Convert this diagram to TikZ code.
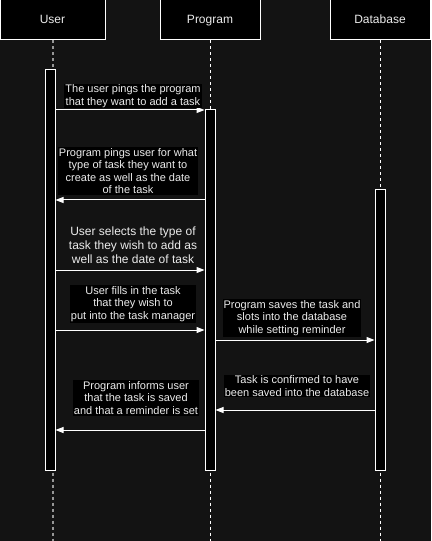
\documentclass[tikz,border=0pt]{standalone}
\usepackage{fontspec}
\setmainfont{Liberation Sans}
\usetikzlibrary{arrows.meta}
\definecolor{canvas}{RGB}{19,19,19}
\definecolor{ink}{RGB}{236,236,236}
\definecolor{userline}{RGB}{150,150,150}
\tikzset{
    actor/.style={draw=white, fill=black, line width=0.75pt, text=ink, inner sep=0pt,
        minimum height=30pt, text height=6.6pt, text depth=2pt, font=\fontsize{9}{11}\selectfont},
    bar/.style={draw=white, fill=black, line width=0.75pt, minimum width=7.5pt, inner sep=0pt},
    msg/.style={draw=white, line width=0.75pt, -{Triangle[length=6pt,width=4.5pt]}},
    note/.style={fill=black, text=ink, align=center, inner sep=0.75pt,
        font=\fontsize{8.25}{9.4}\selectfont},
    lifeline/.style={draw=white, line width=0.75pt, dash pattern=on 2.25pt off 2.25pt}
}
\begin{document}
\begin{tikzpicture}[x=0.75pt, y=-0.75pt]
    \fill[canvas] (0,0) rectangle (431,541);
    \useasboundingbox (0,0) rectangle (431,541);

    %%the three heads
        \node[actor, minimum width=78.75pt] (user) at (52.5,20){User};
        \node[actor, minimum width=75pt] (prog) at (210,20){Program};
        \node[actor, minimum width=75pt] (db) at (380,20){Database};

    %%lifelines
    \draw[lifeline, draw=userline, line width=1.5pt] (user.south) to (user.south |- 0,541);
    \draw[lifeline] (prog.south) to (prog.south |- 0,541);
    \draw[lifeline] (db.south) to (db.south |- 0,541);

    %%activation bars
        \node[bar, minimum height=300pt] (ubar) at (50,270){};
        \node[bar, minimum height=270pt] (pbar) at (210,290){};
        \node[bar, minimum height=210pt] (dbar) at (380,330){};

    %%draw the messages
    \draw[msg] (ubar.east |- 0,110) to (pbar.west |- 0,110);
        \node[note] (m1) at (133,96){The user pings the program\\that they want to add a task};
    \draw[msg] (pbar.west |- 0,200) to (ubar.east |- 0,200);
        \node[note] (m2) at (128,171){Program pings user for what\\type of task they want to\\create as well as the date\\of the task};
    \draw[msg] (ubar.east |- 0,270) to (pbar.west |- 0,270);
        \node[note, fill=none, font=\fontsize{9}{10.6}\selectfont] (m3) at (133,245){User selects the type of\\task they wish to add as\\well as the date of task};
    \draw[msg] (ubar.east |- 0,330) to (pbar.west |- 0,330);
        \node[note] (m4) at (133,304){User fills in the task\\that they wish to\\put into the task manager};
    \draw[msg] (pbar.east |- 0,340) to (dbar.west |- 0,340);
        \node[note] (m5) at (292,318){Program saves the task and\\slots into the database\\while setting reminder};
    \draw[msg] (dbar.west |- 0,410) to (pbar.east |- 0,410);
        \node[note] (m6) at (297,386){Task is confirmed to have\\been saved into the database};
    \draw[msg] (pbar.west |- 0,430) to (ubar.east |- 0,430);
        \node[note] (m7) at (136,398){Program informs user\\that the task is saved\\and that a reminder is set};
\end{tikzpicture}
\end{document}
